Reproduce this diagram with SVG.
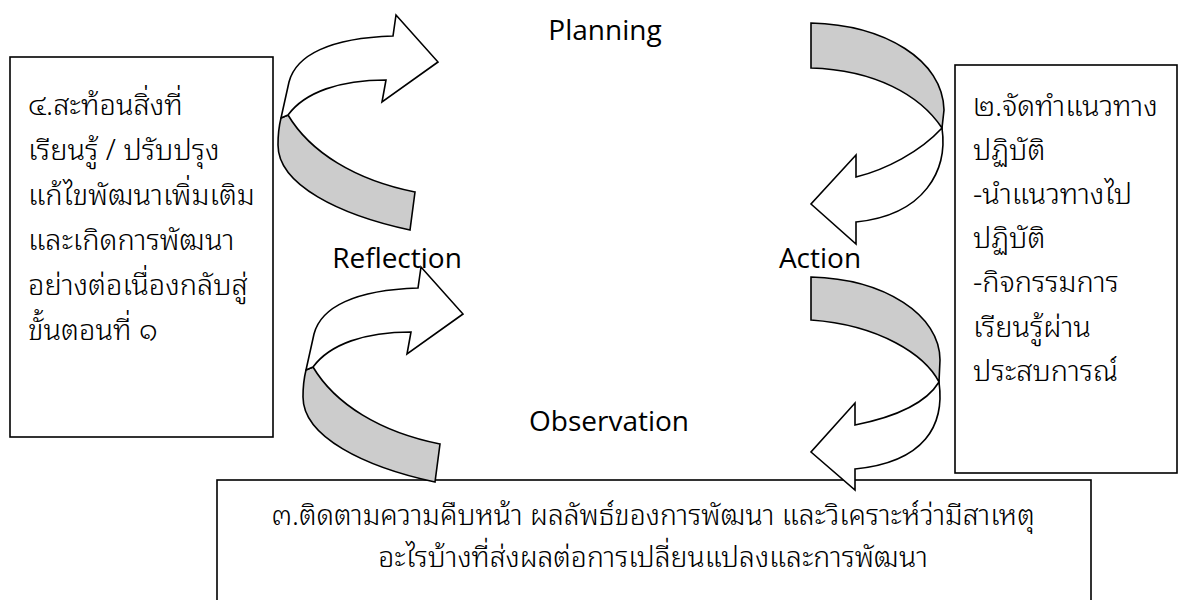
<svg xmlns="http://www.w3.org/2000/svg" width="1184" height="600" viewBox="0 0 1184 600">
<style>
.box{fill:#ffffff;stroke:#000;stroke-width:1.6}
.white{fill:#ffffff;stroke:#000;stroke-width:1.6;stroke-linejoin:miter}
.gray{fill:#cccccc;stroke:#000;stroke-width:1.6;stroke-linejoin:miter}
.th{font-family:"Noto Sans Thai Looped","Noto Serif Thai","Noto Sans Thai","Noto Sans",sans-serif;font-size:29px;font-weight:300;fill:#000}
.thb{font-family:"Noto Sans Thai Looped","Noto Serif Thai","Noto Sans Thai","Noto Sans",sans-serif;font-size:28.4px;font-weight:300;fill:#000}
.lbl{font-family:"Open Sans","Noto Sans",sans-serif;font-size:28px;fill:#000}
</style>
<defs>
<g id="upArrow">
<path class="gray" d="M 288,115 C 310,152 355,180 415,192 L 410,230 C 340,215 278,185 278,145 C 278,135 279,126 281,118 Z"/>
<path class="white" d="M 281,118 L 289,82 C 296,55 330,38 393,36 L 396,15 L 438,62 L 382,102 L 386,80 C 340,80 305,92 288,115 Z"/>
</g>
</defs>
<rect width="1184" height="600" fill="#ffffff"/>
<g id="node-observation-box">
<rect class="box" x="217" y="480" width="874" height="140"/>
<text class="thb" x="653" y="525" text-anchor="middle">๓.ติดตามความคืบหน้า ผลลัพธ์ของการพัฒนา และวิเคราะห์ว่ามีสาเหตุ</text>
<text class="thb" x="653" y="567" text-anchor="middle">อะไรบ้างที่ส่งผลต่อการเปลี่ยนแปลงและการพัฒนา</text>
</g>
<g id="node-reflection-box">
<rect class="box" x="10" y="57" width="263" height="380"/>
<text class="th" x="28" y="115">๔.สะท้อนสิ่งที่</text>
<text class="th" x="28" y="160">เรียนรู้ / ปรับปรุง</text>
<text class="th" x="28" y="205">แก้ไขพัฒนาเพิ่มเติม</text>
<text class="th" x="28" y="250">และเกิดการพัฒนา</text>
<text class="th" x="28" y="295">อย่างต่อเนื่องกลับสู่</text>
<text class="th" x="28" y="340">ขั้นตอนที่ ๑</text>
</g>
<g id="node-action-box">
<rect class="box" x="955" y="65" width="222" height="408"/>
<text class="th" x="973" y="116">๒.จัดทำแนวทาง</text>
<text class="th" x="973" y="160">ปฏิบัติ</text>
<text class="th" x="973" y="204">-นำแนวทางไป</text>
<text class="th" x="973" y="248">ปฏิบัติ</text>
<text class="th" x="973" y="292">-กิจกรรมการ</text>
<text class="th" x="973" y="337">เรียนรู้ผ่าน</text>
<text class="th" x="973" y="381">ประสบการณ์</text>
</g>
<g id="node-planning"><text class="lbl" x="605" y="40" text-anchor="middle">Planning</text></g>
<g id="node-reflection"><text class="lbl" x="397" y="268" text-anchor="middle">Reflection</text></g>
<g id="node-action"><text class="lbl" x="820" y="268" text-anchor="middle">Action</text></g>
<g id="node-observation"><text class="lbl" x="609" y="431" text-anchor="middle">Observation</text></g>
<g id="connectors">
<use href="#upArrow"/>
<use href="#upArrow" transform="translate(25,252)"/>
<path class="gray" d="M 811,23 C 885,25 943,60 944,110 L 942,128 C 920,95 875,70 811,68 Z"/>
<path class="white" d="M 942,128 C 948,170 925,215 856,222 L 856,244 L 811,204 L 856,155 L 856,177 C 885,170 920,152 942,128 Z"/>
<path class="gray" d="M 811,277 C 885,279 940,315 940,360 L 939,382 C 925,355 880,325 811,320 Z"/>
<path class="white" d="M 939,382 C 945,425 925,462 855,469 L 855,490 L 811,452 L 855,403 L 855,425 C 890,418 925,405 939,382 Z"/>
</g>
</svg>
